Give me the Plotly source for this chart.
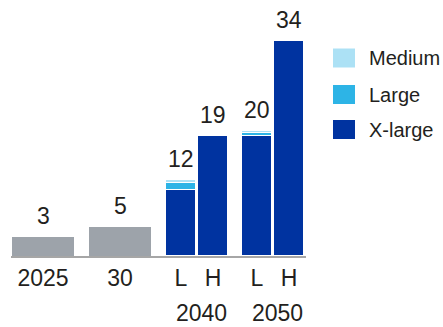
import plotly.graph_objects as go

# ---- data ----
categories = ["2025", "30", "L", "H", "L", "H"]
groups = ["", "", "2040", "2040", "2050", "2050"]
today = [3.0, 4.6, 0, 0, 0, 0]
xlarge = [0, 0, 10.5, 19.0, 19.0, 34.0]
large = [0, 0, 1.0, 0, 0.5, 0]
medium = [0, 0, 0.5, 0, 0.3, 0]
total_labels = ["3", "5", "12", "19", "20", "34"]
series_names = ["Medium", "Large", "X-large"]

# ---- layout / style ----
W, H = 443, 327
x_pos = [43, 120, 181, 213, 257, 289]
widths = [62, 62, 30, 30, 30, 30]
GRAY = "#9DA3AA"
XL = "#0033A0"
LG = "#2DB4E6"
MD = "#ACE1F5"
TXT = "#231F20"
FONT = "Liberation Sans, Arial, sans-serif"
colors = {"Medium": MD, "Large": LG, "X-large": XL}

totals = [a + b + c + d for a, b, c, d in zip(today, xlarge, large, medium)]

fig = go.Figure()
line = dict(color="white", width=1)
fig.add_bar(x=x_pos, y=today, width=widths, marker=dict(color=GRAY, line=dict(width=0)),
            showlegend=False, hoverinfo="skip")
fig.add_bar(x=x_pos, y=xlarge, width=widths, marker=dict(color=XL, line=line),
            name="X-large", showlegend=False)
fig.add_bar(x=x_pos, y=large, width=widths, marker=dict(color=LG, line=line),
            name="Large", showlegend=False)
fig.add_bar(x=x_pos, y=medium, width=widths, marker=dict(color=MD, line=line),
            name="Medium", showlegend=False)

annotations = []
for xp, t, lab in zip(x_pos, totals, total_labels):
    annotations.append(dict(x=xp, y=t, xref="x", yref="y", text=lab, showarrow=False,
                            yanchor="bottom", yshift=6,
                            font=dict(family=FONT, size=23, color=TXT)))

# group labels (second row)
seen = []
for g in groups:
    if g and g not in seen:
        seen.append(g)
for g in seen:
    idx = [i for i, gg in enumerate(groups) if gg == g]
    mid = sum(x_pos[i] for i in idx) / len(idx)
    annotations.append(dict(x=mid, y=-0.2227, xref="x", yref="paper", text=g,
                            showarrow=False, yanchor="middle", xshift=4,
                            font=dict(family=FONT, size=23, color=TXT)))

# legend (manual, large swatches)
plot_h = 256
legend_rows = [58, 94.5, 129.5]
shapes = []
for name, cy in zip(series_names, legend_rows):
    shapes.append(dict(type="rect", xref="paper", yref="paper",
                       x0=333 / W, x1=355 / W,
                       y0=(plot_h - (cy + 9.5)) / plot_h, y1=(plot_h - (cy - 9.5)) / plot_h,
                       fillcolor=colors[name], line=dict(width=0)))
    annotations.append(dict(x=367 / W, y=(plot_h - cy) / plot_h, xref="paper", yref="paper",
                            text=name, showarrow=False, xanchor="left", yanchor="middle",
                            font=dict(family=FONT, size=20, color=TXT)))

fig.update_layout(
    width=W, height=H,
    margin=dict(l=0, r=0, t=0, b=H - plot_h, pad=0),
    barmode="stack", bargap=0,
    plot_bgcolor="white", paper_bgcolor="white",
    xaxis=dict(domain=[11 / W, 306 / W], range=[11, 306], showgrid=False, zeroline=False,
               showline=True, linecolor="#A6A6A6", linewidth=2,
               tickmode="array", tickvals=x_pos, ticktext=categories, ticks="",
               tickfont=dict(family=FONT, size=23, color=TXT), fixedrange=True),
    yaxis=dict(range=[0, plot_h / 6.33], visible=False, fixedrange=True),
    annotations=annotations, shapes=shapes,
    showlegend=False,
)

fig.write_html("out.html", config={"displayModeBar": False},
               post_script="document.body.style.margin='0';document.body.style.overflow='hidden';")
